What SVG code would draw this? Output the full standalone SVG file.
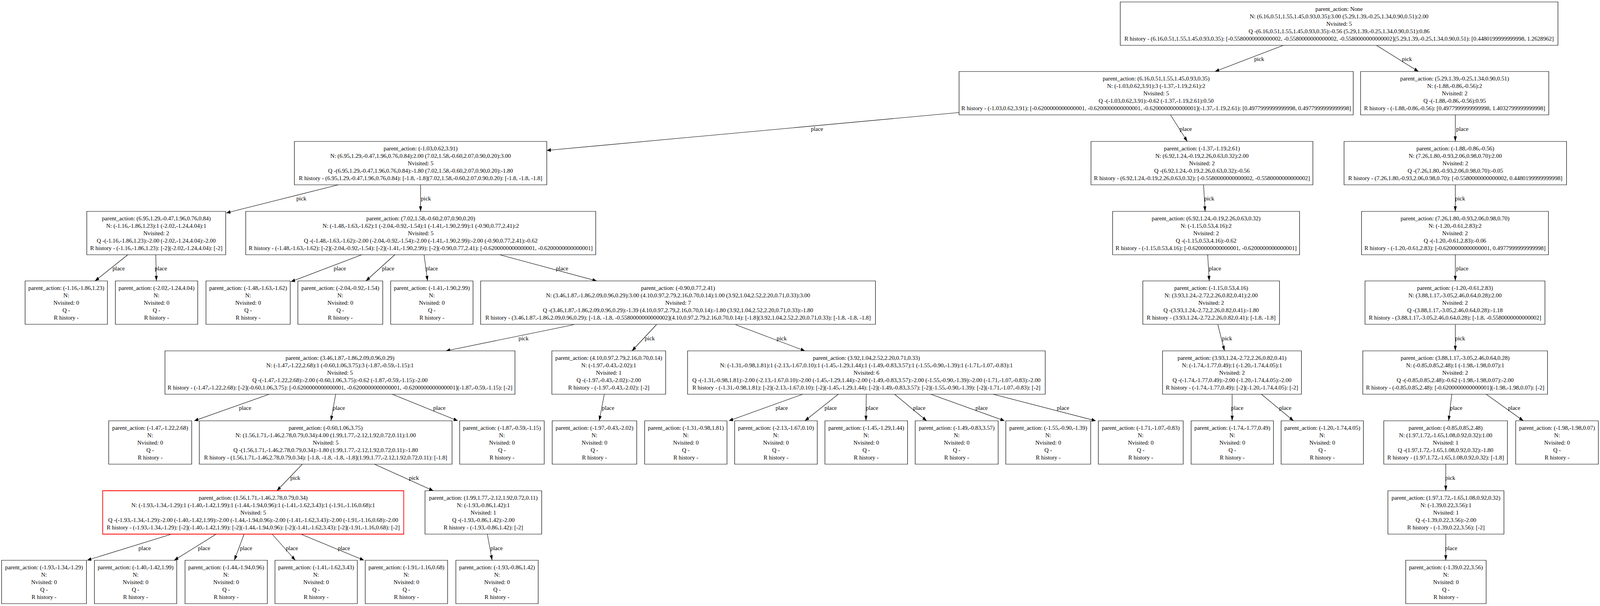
<svg xmlns="http://www.w3.org/2000/svg" width="5033" height="1551" viewBox="0 0 5033 1551">
<defs>
<style>
.node rect{fill:#fff;stroke:#000;stroke-width:1.2;vector-effect:non-scaling-stroke}
.node.sel rect{stroke:#ff0000;stroke-width:1.8}
text{font-family:"Liberation Serif","Times New Roman",serif;font-size:14.9px;text-anchor:middle;fill:#000}
#edges path{stroke:#000;stroke-width:1.1;fill:none;vector-effect:non-scaling-stroke;marker-end:url(#arr)}
</style>
<marker id="arr" markerUnits="userSpaceOnUse" markerWidth="14" markerHeight="10" refX="13" refY="4.7" orient="auto"><path d="M0,0 L13,4.7 L0,9.4 z" fill="#000"/></marker>
</defs>
<rect x="0" y="0" width="5033" height="1551" fill="#fff"/>
<g id="edges">
<g transform="scale(0.8138,1)">
<path d="M4037,116 L3822,183"/>
<path d="M4330,116 L4462,183"/>
<path d="M3017,288 L1720,385"/>
<path d="M3682,294 L3735,362"/>
<path d="M4578,294 L4578,362"/>
<path d="M1064,473 L712,545"/>
<path d="M1323,473 L1323,541"/>
<path d="M3786,473 L3791,541"/>
<path d="M4578,473 L4578,541"/>
<path d="M402,652 L299,719"/>
<path d="M490,652 L492,719"/>
<path d="M1138,652 L915,721"/>
<path d="M1242,652 L1151,719"/>
<path d="M1334,652 L1345,719"/>
<path d="M1572,652 L1877,719"/>
<path d="M3799,652 L3804,719"/>
<path d="M4578,652 L4578,719"/>
<path d="M1805,831 L1403,898"/>
<path d="M2065,831 L1988,898"/>
<path d="M2314,831 L2532,898"/>
<path d="M3831,831 L3852,898"/>
<path d="M4578,831 L4578,898"/>
<path d="M847,1009 L611,1077"/>
<path d="M1056,1009 L1041,1077"/>
<path d="M1234,1009 L1440,1077"/>
<path d="M1901,1009 L1885,1077"/>
<path d="M2525,1009 L2293,1077"/>
<path d="M2637,1009 L2532,1077"/>
<path d="M2725,1009 L2724,1077"/>
<path d="M2814,1009 L2915,1077"/>
<path d="M2928,1009 L3160,1077"/>
<path d="M3124,1009 L3447,1077"/>
<path d="M3876,1009 L3876,1077"/>
<path d="M3968,1009 L4069,1077"/>
<path d="M4567,1009 L4557,1077"/>
<path d="M4675,1009 L4792,1077"/>
<path d="M951,1188 L871,1256"/>
<path d="M1178,1188 L1363,1256"/>
<path d="M4548,1188 L4548,1256"/>
<path d="M540,1367 L274,1434"/>
<path d="M680,1367 L548,1434"/>
<path d="M768,1367 L737,1434"/>
<path d="M856,1367 L929,1434"/>
<path d="M946,1367 L1145,1434"/>
<path d="M1533,1367 L1548,1434"/>
<path d="M4548,1367 L4548,1434"/>
</g>
<text x="3223.5" y="156">pick</text>
<text x="3601.9" y="156">pick</text>
<text x="2091.5" y="335">place</text>
<text x="3035.5" y="335">place</text>
<text x="3743.5" y="335">place</text>
<text x="771.5" y="513">pick</text>
<text x="1090.5" y="513">pick</text>
<text x="3095.7" y="513">pick</text>
<text x="3737.8" y="513">pick</text>
<text x="303.6" y="692">place</text>
<text x="411.8" y="692">place</text>
<text x="870" y="692">place</text>
<text x="993.6" y="692">place</text>
<text x="1105.1" y="692">place</text>
<text x="1438.8" y="692">place</text>
<text x="3110.3" y="692">place</text>
<text x="3743.5" y="692">place</text>
<text x="1340.3" y="871">pick</text>
<text x="1663.4" y="871">pick</text>
<text x="2001.1" y="871">pick</text>
<text x="3141.3" y="871">pick</text>
<text x="3737.8" y="871">pick</text>
<text x="627.4" y="1049">place</text>
<text x="867.5" y="1049">place</text>
<text x="1124.7" y="1049">place</text>
<text x="1556.8" y="1049">place</text>
<text x="2001.1" y="1049">place</text>
<text x="2126.5" y="1049">place</text>
<text x="2232.3" y="1049">place</text>
<text x="2353.5" y="1049">place</text>
<text x="2513" y="1049">place</text>
<text x="2721.3" y="1049">place</text>
<text x="3167.3" y="1049">place</text>
<text x="3290.2" y="1049">place</text>
<text x="3728" y="1049">place</text>
<text x="3876.1" y="1049">place</text>
<text x="756" y="1228">pick</text>
<text x="1059.6" y="1228">pick</text>
<text x="3712.6" y="1228">pick</text>
<text x="370.3" y="1408">place</text>
<text x="522.5" y="1408">place</text>
<text x="629.9" y="1408">place</text>
<text x="747.1" y="1408">place</text>
<text x="880.5" y="1408">place</text>
<text x="1271.2" y="1408">place</text>
<text x="3715" y="1408">place</text>
</g>
<g id="root" class="node"><rect transform="scale(0.8138,1)" x="3524" y="5" width="1377" height="111"/><text x="3428.1" y="27.5"><tspan x="3428.1">parent_action: None</tspan><tspan x="3428.1" dy="19.2">N: (6.16,0.51,1.55,1.45,0.93,0.35):3.00 (5.29,1.39,-0.25,1.34,0.90,0.51):2.00</tspan><tspan x="3428.1" dy="19.2">Nvisited: 5</tspan><tspan x="3428.1" dy="19.2">Q -(6.16,0.51,1.55,1.45,0.93,0.35):-0.56 (5.29,1.39,-0.25,1.34,0.90,0.51):0.86</tspan><tspan x="3428.1" dy="19.2">R history - (6.16,0.51,1.55,1.45,0.93,0.35): [-0.5580000000000002, -0.5580000000000002, -0.5580000000000002](5.29,1.39,-0.25,1.34,0.90,0.51): [0.4480199999999998, 1.2628962]</tspan></text></g>
<g id="n_L1a" class="node"><rect transform="scale(0.8138,1)" x="3017" y="183" width="1240" height="111"/><text x="2959.8" y="205.5"><tspan x="2959.8">parent_action: (6.16,0.51,1.55,1.45,0.93,0.35)</tspan><tspan x="2959.8" dy="19.2">N: (-1.03,0.62,3.91):3 (-1.37,-1.19,2.61):2</tspan><tspan x="2959.8" dy="19.2">Nvisited: 5</tspan><tspan x="2959.8" dy="19.2">Q -(-1.03,0.62,3.91):-0.62 (-1.37,-1.19,2.61):0.50</tspan><tspan x="2959.8" dy="19.2">R history - (-1.03,0.62,3.91): [-0.6200000000000001, -0.6200000000000001, -0.6200000000000001](-1.37,-1.19,2.61): [0.4977999999999998, 0.4977999999999998]</tspan></text></g>
<g id="n_L1b" class="node"><rect transform="scale(0.8138,1)" x="4280" y="183" width="592" height="111"/><text x="3723.9" y="205.5"><tspan x="3723.9">parent_action: (5.29,1.39,-0.25,1.34,0.90,0.51)</tspan><tspan x="3723.9" dy="19.2">N: (-1.88,-0.86,-0.56):2</tspan><tspan x="3723.9" dy="19.2">Nvisited: 2</tspan><tspan x="3723.9" dy="19.2">Q -(-1.88,-0.86,-0.56):0.95</tspan><tspan x="3723.9" dy="19.2">R history - (-1.88,-0.86,-0.56): [0.4977999999999998, 1.4032799999999998]</tspan></text></g>
<g id="n_A" class="node"><rect transform="scale(0.8138,1)" x="926" y="362" width="794" height="111"/><text x="1076.7" y="384.5"><tspan x="1076.7">parent_action: (-1.03,0.62,3.91)</tspan><tspan x="1076.7" dy="19.2">N: (6.95,1.29,-0.47,1.96,0.76,0.84):2.00 (7.02,1.58,-0.60,2.07,0.90,0.20):3.00</tspan><tspan x="1076.7" dy="19.2">Nvisited: 5</tspan><tspan x="1076.7" dy="19.2">Q -(6.95,1.29,-0.47,1.96,0.76,0.84):-1.80 (7.02,1.58,-0.60,2.07,0.90,0.20):-1.80</tspan><tspan x="1076.7" dy="19.2">R history - (6.95,1.29,-0.47,1.96,0.76,0.84): [-1.8, -1.8](7.02,1.58,-0.60,2.07,0.90,0.20): [-1.8, -1.8, -1.8]</tspan></text></g>
<g id="n_B" class="node"><rect transform="scale(0.8138,1)" x="3432" y="362" width="698" height="111"/><text x="3077" y="384.5"><tspan x="3077">parent_action: (-1.37,-1.19,2.61)</tspan><tspan x="3077" dy="19.2">N: (6.92,1.24,-0.19,2.26,0.63,0.32):2.00</tspan><tspan x="3077" dy="19.2">Nvisited: 2</tspan><tspan x="3077" dy="19.2">Q -(6.92,1.24,-0.19,2.26,0.63,0.32):-0.56</tspan><tspan x="3077" dy="19.2">R history - (6.92,1.24,-0.19,2.26,0.63,0.32): [-0.5580000000000002, -0.5580000000000002]</tspan></text></g>
<g id="n_C" class="node"><rect transform="scale(0.8138,1)" x="4228" y="362" width="700" height="111"/><text x="3725.6" y="384.5"><tspan x="3725.6">parent_action: (-1.88,-0.86,-0.56)</tspan><tspan x="3725.6" dy="19.2">N: (7.26,1.80,-0.93,2.06,0.98,0.70):2.00</tspan><tspan x="3725.6" dy="19.2">Nvisited: 2</tspan><tspan x="3725.6" dy="19.2">Q -(7.26,1.80,-0.93,2.06,0.98,0.70):-0.05</tspan><tspan x="3725.6" dy="19.2">R history - (7.26,1.80,-0.93,2.06,0.98,0.70): [-0.5580000000000002, 0.4480199999999998]</tspan></text></g>
<g id="n_D" class="node"><rect transform="scale(0.8138,1)" x="273" y="541" width="437" height="111"/><text x="400" y="563.5"><tspan x="400">parent_action: (6.95,1.29,-0.47,1.96,0.76,0.84)</tspan><tspan x="400" dy="19.2">N: (-1.16,-1.86,1.23):1 (-2.02,-1.24,4.04):1</tspan><tspan x="400" dy="19.2">Nvisited: 2</tspan><tspan x="400" dy="19.2">Q -(-1.16,-1.86,1.23):-2.00 (-2.02,-1.24,4.04):-2.00</tspan><tspan x="400" dy="19.2">R history - (-1.16,-1.86,1.23): [-2](-2.02,-1.24,4.04): [-2]</tspan></text></g>
<g id="n_E" class="node"><rect transform="scale(0.8138,1)" x="773" y="541" width="1101" height="111"/><text x="1077.1" y="563.5"><tspan x="1077.1">parent_action: (7.02,1.58,-0.60,2.07,0.90,0.20)</tspan><tspan x="1077.1" dy="19.2">N: (-1.48,-1.63,-1.62):1 (-2.04,-0.92,-1.54):1 (-1.41,-1.90,2.99):1 (-0.90,0.77,2.41):2</tspan><tspan x="1077.1" dy="19.2">Nvisited: 5</tspan><tspan x="1077.1" dy="19.2">Q -(-1.48,-1.63,-1.62):-2.00 (-2.04,-0.92,-1.54):-2.00 (-1.41,-1.90,2.99):-2.00 (-0.90,0.77,2.41):-0.62</tspan><tspan x="1077.1" dy="19.2">R history - (-1.48,-1.63,-1.62): [-2](-2.04,-0.92,-1.54): [-2](-1.41,-1.90,2.99): [-2](-0.90,0.77,2.41): [-0.6200000000000001, -0.6200000000000001]</tspan></text></g>
<g id="n_F" class="node"><rect transform="scale(0.8138,1)" x="3500" y="541" width="588" height="111"/><text x="3087.6" y="563.5"><tspan x="3087.6">parent_action: (6.92,1.24,-0.19,2.26,0.63,0.32)</tspan><tspan x="3087.6" dy="19.2">N: (-1.15,0.53,4.16):2</tspan><tspan x="3087.6" dy="19.2">Nvisited: 2</tspan><tspan x="3087.6" dy="19.2">Q -(-1.15,0.53,4.16):-0.62</tspan><tspan x="3087.6" dy="19.2">R history - (-1.15,0.53,4.16): [-0.6200000000000001, -0.6200000000000001]</tspan></text></g>
<g id="n_G" class="node"><rect transform="scale(0.8138,1)" x="4283" y="541" width="588" height="111"/><text x="3724.8" y="563.5"><tspan x="3724.8">parent_action: (7.26,1.80,-0.93,2.06,0.98,0.70)</tspan><tspan x="3724.8" dy="19.2">N: (-1.20,-0.61,2.83):2</tspan><tspan x="3724.8" dy="19.2">Nvisited: 2</tspan><tspan x="3724.8" dy="19.2">Q -(-1.20,-0.61,2.83):-0.06</tspan><tspan x="3724.8" dy="19.2">R history - (-1.20,-0.61,2.83): [-0.6200000000000001, 0.4977999999999998]</tspan></text></g>
<g id="leaf_D1" class="node"><rect transform="scale(0.8138,1)" x="79" y="719" width="259" height="111"/><text x="169.7" y="741.5"><tspan x="169.7">parent_action: (-1.16,-1.86,1.23)</tspan><tspan x="169.7" dy="19.2">N:</tspan><tspan x="169.7" dy="19.2">Nvisited: 0</tspan><tspan x="169.7" dy="19.2">Q -</tspan><tspan x="169.7" dy="19.2">R history -</tspan></text></g>
<g id="leaf_D2" class="node"><rect transform="scale(0.8138,1)" x="363" y="719" width="259" height="111"/><text x="400.8" y="741.5"><tspan x="400.8">parent_action: (-2.02,-1.24,4.04)</tspan><tspan x="400.8" dy="19.2">N:</tspan><tspan x="400.8" dy="19.2">Nvisited: 0</tspan><tspan x="400.8" dy="19.2">Q -</tspan><tspan x="400.8" dy="19.2">R history -</tspan></text></g>
<g id="leaf_E1" class="node"><rect transform="scale(0.8138,1)" x="648" y="719" width="265" height="111"/><text x="635.2" y="741.5"><tspan x="635.2">parent_action: (-1.48,-1.63,-1.62)</tspan><tspan x="635.2" dy="19.2">N:</tspan><tspan x="635.2" dy="19.2">Nvisited: 0</tspan><tspan x="635.2" dy="19.2">Q -</tspan><tspan x="635.2" dy="19.2">R history -</tspan></text></g>
<g id="leaf_E2" class="node"><rect transform="scale(0.8138,1)" x="937" y="719" width="267" height="111"/><text x="871.2" y="741.5"><tspan x="871.2">parent_action: (-2.04,-0.92,-1.54)</tspan><tspan x="871.2" dy="19.2">N:</tspan><tspan x="871.2" dy="19.2">Nvisited: 0</tspan><tspan x="871.2" dy="19.2">Q -</tspan><tspan x="871.2" dy="19.2">R history -</tspan></text></g>
<g id="leaf_E3" class="node"><rect transform="scale(0.8138,1)" x="1229" y="719" width="259" height="111"/><text x="1105.5" y="741.5"><tspan x="1105.5">parent_action: (-1.41,-1.90,2.99)</tspan><tspan x="1105.5" dy="19.2">N:</tspan><tspan x="1105.5" dy="19.2">Nvisited: 0</tspan><tspan x="1105.5" dy="19.2">Q -</tspan><tspan x="1105.5" dy="19.2">R history -</tspan></text></g>
<g id="n_H" class="node"><rect transform="scale(0.8138,1)" x="1512" y="719" width="1242" height="111"/><text x="1735.8" y="741.5"><tspan x="1735.8">parent_action: (-0.90,0.77,2.41)</tspan><tspan x="1735.8" dy="19.2">N: (3.46,1.87,-1.86,2.09,0.96,0.29):3.00 (4.10,0.97,2.79,2.16,0.70,0.14):1.00 (3.92,1.04,2.52,2.20,0.71,0.33):3.00</tspan><tspan x="1735.8" dy="19.2">Nvisited: 7</tspan><tspan x="1735.8" dy="19.2">Q -(3.46,1.87,-1.86,2.09,0.96,0.29):-1.39 (4.10,0.97,2.79,2.16,0.70,0.14):-1.80 (3.92,1.04,2.52,2.20,0.71,0.33):-1.80</tspan><tspan x="1735.8" dy="19.2">R history - (3.46,1.87,-1.86,2.09,0.96,0.29): [-1.8, -1.8, -0.5580000000000002](4.10,0.97,2.79,2.16,0.70,0.14): [-1.8](3.92,1.04,2.52,2.20,0.71,0.33): [-1.8, -1.8, -1.8]</tspan></text></g>
<g id="n_I" class="node"><rect transform="scale(0.8138,1)" x="3595" y="719" width="430" height="111"/><text x="3100.6" y="741.5"><tspan x="3100.6">parent_action: (-1.15,0.53,4.16)</tspan><tspan x="3100.6" dy="19.2">N: (3.93,1.24,-2.72,2.26,0.82,0.41):2.00</tspan><tspan x="3100.6" dy="19.2">Nvisited: 2</tspan><tspan x="3100.6" dy="19.2">Q -(3.93,1.24,-2.72,2.26,0.82,0.41):-1.80</tspan><tspan x="3100.6" dy="19.2">R history - (3.93,1.24,-2.72,2.26,0.82,0.41): [-1.8, -1.8]</tspan></text></g>
<g id="n_J" class="node"><rect transform="scale(0.8138,1)" x="4294" y="719" width="566" height="111"/><text x="3724.8" y="741.5"><tspan x="3724.8">parent_action: (-1.20,-0.61,2.83)</tspan><tspan x="3724.8" dy="19.2">N: (3.88,1.17,-3.05,2.46,0.64,0.28):2.00</tspan><tspan x="3724.8" dy="19.2">Nvisited: 2</tspan><tspan x="3724.8" dy="19.2">Q -(3.88,1.17,-3.05,2.46,0.64,0.28):-1.18</tspan><tspan x="3724.8" dy="19.2">R history - (3.88,1.17,-3.05,2.46,0.64,0.28): [-1.8, -0.5580000000000002]</tspan></text></g>
<g id="n_K" class="node"><rect transform="scale(0.8138,1)" x="519" y="898" width="1101" height="111"/><text x="870.4" y="920.5"><tspan x="870.4">parent_action: (3.46,1.87,-1.86,2.09,0.96,0.29)</tspan><tspan x="870.4" dy="19.2">N: (-1.47,-1.22,2.68):1 (-0.60,1.06,3.75):3 (-1.87,-0.59,-1.15):1</tspan><tspan x="870.4" dy="19.2">Nvisited: 5</tspan><tspan x="870.4" dy="19.2">Q -(-1.47,-1.22,2.68):-2.00 (-0.60,1.06,3.75):-0.62 (-1.87,-0.59,-1.15):-2.00</tspan><tspan x="870.4" dy="19.2">R history - (-1.47,-1.22,2.68): [-2](-0.60,1.06,3.75): [-0.6200000000000001, -0.6200000000000001, -0.6200000000000001](-1.87,-0.59,-1.15): [-2]</tspan></text></g>
<g id="n_L" class="node"><rect transform="scale(0.8138,1)" x="1736" y="898" width="358" height="111"/><text x="1558.4" y="920.5"><tspan x="1558.4">parent_action: (4.10,0.97,2.79,2.16,0.70,0.14)</tspan><tspan x="1558.4" dy="19.2">N: (-1.97,-0.43,-2.02):1</tspan><tspan x="1558.4" dy="19.2">Nvisited: 1</tspan><tspan x="1558.4" dy="19.2">Q -(-1.97,-0.43,-2.02):-2.00</tspan><tspan x="1558.4" dy="19.2">R history - (-1.97,-0.43,-2.02): [-2]</tspan></text></g>
<g id="n_M" class="node"><rect transform="scale(0.8138,1)" x="2163" y="898" width="1125" height="111"/><text x="2218" y="920.5"><tspan x="2218">parent_action: (3.92,1.04,2.52,2.20,0.71,0.33)</tspan><tspan x="2218" dy="19.2">N: (-1.31,-0.98,1.81):1 (-2.13,-1.67,0.10):1 (-1.45,-1.29,1.44):1 (-1.49,-0.83,3.57):1 (-1.55,-0.90,-1.39):1 (-1.71,-1.07,-0.83):1</tspan><tspan x="2218" dy="19.2">Nvisited: 6</tspan><tspan x="2218" dy="19.2">Q -(-1.31,-0.98,1.81):-2.00 (-2.13,-1.67,0.10):-2.00 (-1.45,-1.29,1.44):-2.00 (-1.49,-0.83,3.57):-2.00 (-1.55,-0.90,-1.39):-2.00 (-1.71,-1.07,-0.83):-2.00</tspan><tspan x="2218" dy="19.2">R history - (-1.31,-0.98,1.81): [-2](-2.13,-1.67,0.10): [-2](-1.45,-1.29,1.44): [-2](-1.49,-0.83,3.57): [-2](-1.55,-0.90,-1.39): [-2](-1.71,-1.07,-0.83): [-2]</tspan></text></g>
<g id="n_I2" class="node"><rect transform="scale(0.8138,1)" x="3657" y="898" width="437" height="111"/><text x="3153.9" y="920.5"><tspan x="3153.9">parent_action: (3.93,1.24,-2.72,2.26,0.82,0.41)</tspan><tspan x="3153.9" dy="19.2">N: (-1.74,-1.77,0.49):1 (-1.20,-1.74,4.05):1</tspan><tspan x="3153.9" dy="19.2">Nvisited: 2</tspan><tspan x="3153.9" dy="19.2">Q -(-1.74,-1.77,0.49):-2.00 (-1.20,-1.74,4.05):-2.00</tspan><tspan x="3153.9" dy="19.2">R history - (-1.74,-1.77,0.49): [-2](-1.20,-1.74,4.05): [-2]</tspan></text></g>
<g id="n_J2" class="node"><rect transform="scale(0.8138,1)" x="4287" y="898" width="581" height="111"/><text x="3725.2" y="920.5"><tspan x="3725.2">parent_action: (3.88,1.17,-3.05,2.46,0.64,0.28)</tspan><tspan x="3725.2" dy="19.2">N: (-0.85,0.85,2.48):1 (-1.98,-1.98,0.07):1</tspan><tspan x="3725.2" dy="19.2">Nvisited: 2</tspan><tspan x="3725.2" dy="19.2">Q -(-0.85,0.85,2.48):-0.62 (-1.98,-1.98,0.07):-2.00</tspan><tspan x="3725.2" dy="19.2">R history - (-0.85,0.85,2.48): [-0.6200000000000001](-1.98,-1.98,0.07): [-2]</tspan></text></g>
<g id="leaf_K1" class="node"><rect transform="scale(0.8138,1)" x="342" y="1077" width="261" height="111"/><text x="384.5" y="1099.5"><tspan x="384.5">parent_action: (-1.47,-1.22,2.68)</tspan><tspan x="384.5" dy="19.2">N:</tspan><tspan x="384.5" dy="19.2">Nvisited: 0</tspan><tspan x="384.5" dy="19.2">Q -</tspan><tspan x="384.5" dy="19.2">R history -</tspan></text></g>
<g id="n_K2" class="node"><rect transform="scale(0.8138,1)" x="627" y="1077" width="795" height="111"/><text x="833.7" y="1099.5"><tspan x="833.7">parent_action: (-0.60,1.06,3.75)</tspan><tspan x="833.7" dy="19.2">N: (1.56,1.71,-1.46,2.78,0.79,0.34):4.00 (1.99,1.77,-2.12,1.92,0.72,0.11):1.00</tspan><tspan x="833.7" dy="19.2">Nvisited: 5</tspan><tspan x="833.7" dy="19.2">Q -(1.56,1.71,-1.46,2.78,0.79,0.34):-1.80 (1.99,1.77,-2.12,1.92,0.72,0.11):-1.80</tspan><tspan x="833.7" dy="19.2">R history - (1.56,1.71,-1.46,2.78,0.79,0.34): [-1.8, -1.8, -1.8, -1.8](1.99,1.77,-2.12,1.92,0.72,0.11): [-1.8]</tspan></text></g>
<g id="leaf_K3" class="node"><rect transform="scale(0.8138,1)" x="1446" y="1077" width="266" height="111"/><text x="1285" y="1099.5"><tspan x="1285">parent_action: (-1.87,-0.59,-1.15)</tspan><tspan x="1285" dy="19.2">N:</tspan><tspan x="1285" dy="19.2">Nvisited: 0</tspan><tspan x="1285" dy="19.2">Q -</tspan><tspan x="1285" dy="19.2">R history -</tspan></text></g>
<g id="leaf_L1" class="node"><rect transform="scale(0.8138,1)" x="1737" y="1077" width="266" height="111"/><text x="1521.8" y="1099.5"><tspan x="1521.8">parent_action: (-1.97,-0.43,-2.02)</tspan><tspan x="1521.8" dy="19.2">N:</tspan><tspan x="1521.8" dy="19.2">Nvisited: 0</tspan><tspan x="1521.8" dy="19.2">Q -</tspan><tspan x="1521.8" dy="19.2">R history -</tspan></text></g>
<g id="leaf_M1" class="node"><rect transform="scale(0.8138,1)" x="2028" y="1077" width="259" height="111"/><text x="1755.8" y="1099.5"><tspan x="1755.8">parent_action: (-1.31,-0.98,1.81)</tspan><tspan x="1755.8" dy="19.2">N:</tspan><tspan x="1755.8" dy="19.2">Nvisited: 0</tspan><tspan x="1755.8" dy="19.2">Q -</tspan><tspan x="1755.8" dy="19.2">R history -</tspan></text></g>
<g id="leaf_M2" class="node"><rect transform="scale(0.8138,1)" x="2311" y="1077" width="260" height="111"/><text x="1986.5" y="1099.5"><tspan x="1986.5">parent_action: (-2.13,-1.67,0.10)</tspan><tspan x="1986.5" dy="19.2">N:</tspan><tspan x="1986.5" dy="19.2">Nvisited: 0</tspan><tspan x="1986.5" dy="19.2">Q -</tspan><tspan x="1986.5" dy="19.2">R history -</tspan></text></g>
<g id="leaf_M3" class="node"><rect transform="scale(0.8138,1)" x="2595" y="1077" width="260" height="111"/><text x="2217.6" y="1099.5"><tspan x="2217.6">parent_action: (-1.45,-1.29,1.44)</tspan><tspan x="2217.6" dy="19.2">N:</tspan><tspan x="2217.6" dy="19.2">Nvisited: 0</tspan><tspan x="2217.6" dy="19.2">Q -</tspan><tspan x="2217.6" dy="19.2">R history -</tspan></text></g>
<g id="leaf_M4" class="node"><rect transform="scale(0.8138,1)" x="2879" y="1077" width="261" height="111"/><text x="2449.1" y="1099.5"><tspan x="2449.1">parent_action: (-1.49,-0.83,3.57)</tspan><tspan x="2449.1" dy="19.2">N:</tspan><tspan x="2449.1" dy="19.2">Nvisited: 0</tspan><tspan x="2449.1" dy="19.2">Q -</tspan><tspan x="2449.1" dy="19.2">R history -</tspan></text></g>
<g id="leaf_M5" class="node"><rect transform="scale(0.8138,1)" x="3164" y="1077" width="267" height="111"/><text x="2683.5" y="1099.5"><tspan x="2683.5">parent_action: (-1.55,-0.90,-1.39)</tspan><tspan x="2683.5" dy="19.2">N:</tspan><tspan x="2683.5" dy="19.2">Nvisited: 0</tspan><tspan x="2683.5" dy="19.2">Q -</tspan><tspan x="2683.5" dy="19.2">R history -</tspan></text></g>
<g id="leaf_M6" class="node"><rect transform="scale(0.8138,1)" x="3455" y="1077" width="267" height="111"/><text x="2920.3" y="1099.5"><tspan x="2920.3">parent_action: (-1.71,-1.07,-0.83)</tspan><tspan x="2920.3" dy="19.2">N:</tspan><tspan x="2920.3" dy="19.2">Nvisited: 0</tspan><tspan x="2920.3" dy="19.2">Q -</tspan><tspan x="2920.3" dy="19.2">R history -</tspan></text></g>
<g id="leaf_I1" class="node"><rect transform="scale(0.8138,1)" x="3747" y="1077" width="259" height="111"/><text x="3154.7" y="1099.5"><tspan x="3154.7">parent_action: (-1.74,-1.77,0.49)</tspan><tspan x="3154.7" dy="19.2">N:</tspan><tspan x="3154.7" dy="19.2">Nvisited: 0</tspan><tspan x="3154.7" dy="19.2">Q -</tspan><tspan x="3154.7" dy="19.2">R history -</tspan></text></g>
<g id="leaf_I2" class="node"><rect transform="scale(0.8138,1)" x="4030" y="1077" width="259" height="111"/><text x="3385" y="1099.5"><tspan x="3385">parent_action: (-1.20,-1.74,4.05)</tspan><tspan x="3385" dy="19.2">N:</tspan><tspan x="3385" dy="19.2">Nvisited: 0</tspan><tspan x="3385" dy="19.2">Q -</tspan><tspan x="3385" dy="19.2">R history -</tspan></text></g>
<g id="n_J3" class="node"><rect transform="scale(0.8138,1)" x="4353" y="1077" width="389" height="111"/><text x="3700.8" y="1099.5"><tspan x="3700.8">parent_action: (-0.85,0.85,2.48)</tspan><tspan x="3700.8" dy="19.2">N: (1.97,1.72,-1.65,1.08,0.92,0.32):1.00</tspan><tspan x="3700.8" dy="19.2">Nvisited: 1</tspan><tspan x="3700.8" dy="19.2">Q -(1.97,1.72,-1.65,1.08,0.92,0.32):-1.80</tspan><tspan x="3700.8" dy="19.2">R history - (1.97,1.72,-1.65,1.08,0.92,0.32): [-1.8]</tspan></text></g>
<g id="leaf_J2" class="node"><rect transform="scale(0.8138,1)" x="4768" y="1077" width="260" height="111"/><text x="3986" y="1099.5"><tspan x="3986">parent_action: (-1.98,-1.98,0.07)</tspan><tspan x="3986" dy="19.2">N:</tspan><tspan x="3986" dy="19.2">Nvisited: 0</tspan><tspan x="3986" dy="19.2">Q -</tspan><tspan x="3986" dy="19.2">R history -</tspan></text></g>
<g id="n_K3" class="node sel"><rect transform="scale(0.8138,1)" x="323" y="1256" width="947" height="111"/><text x="648.2" y="1278.5"><tspan x="648.2">parent_action: (1.56,1.71,-1.46,2.78,0.79,0.34)</tspan><tspan x="648.2" dy="19.2">N: (-1.93,-1.34,-1.29):1 (-1.40,-1.42,1.99):1 (-1.44,-1.94,0.96):1 (-1.41,-1.62,3.43):1 (-1.91,-1.16,0.68):1</tspan><tspan x="648.2" dy="19.2">Nvisited: 5</tspan><tspan x="648.2" dy="19.2">Q -(-1.93,-1.34,-1.29):-2.00 (-1.40,-1.42,1.99):-2.00 (-1.44,-1.94,0.96):-2.00 (-1.41,-1.62,3.43):-2.00 (-1.91,-1.16,0.68):-2.00</tspan><tspan x="648.2" dy="19.2">R history - (-1.93,-1.34,-1.29): [-2](-1.40,-1.42,1.99): [-2](-1.44,-1.94,0.96): [-2](-1.41,-1.62,3.43): [-2](-1.91,-1.16,0.68): [-2]</tspan></text></g>
<g id="n_K4" class="node"><rect transform="scale(0.8138,1)" x="1337" y="1256" width="367" height="111"/><text x="1237.4" y="1278.5"><tspan x="1237.4">parent_action: (1.99,1.77,-2.12,1.92,0.72,0.11)</tspan><tspan x="1237.4" dy="19.2">N: (-1.93,-0.86,1.42):1</tspan><tspan x="1237.4" dy="19.2">Nvisited: 1</tspan><tspan x="1237.4" dy="19.2">Q -(-1.93,-0.86,1.42):-2.00</tspan><tspan x="1237.4" dy="19.2">R history - (-1.93,-0.86,1.42): [-2]</tspan></text></g>
<g id="n_J4" class="node"><rect transform="scale(0.8138,1)" x="4366" y="1256" width="365" height="111"/><text x="3701.6" y="1278.5"><tspan x="3701.6">parent_action: (1.97,1.72,-1.65,1.08,0.92,0.32)</tspan><tspan x="3701.6" dy="19.2">N: (-1.39,0.22,3.56):1</tspan><tspan x="3701.6" dy="19.2">Nvisited: 1</tspan><tspan x="3701.6" dy="19.2">Q -(-1.39,0.22,3.56):-2.00</tspan><tspan x="3701.6" dy="19.2">R history - (-1.39,0.22,3.56): [-2]</tspan></text></g>
<g id="leaf_P1" class="node"><rect transform="scale(0.8138,1)" x="5" y="1434" width="267" height="111"/><text x="112.7" y="1456.5"><tspan x="112.7">parent_action: (-1.93,-1.34,-1.29)</tspan><tspan x="112.7" dy="19.2">N:</tspan><tspan x="112.7" dy="19.2">Nvisited: 0</tspan><tspan x="112.7" dy="19.2">Q -</tspan><tspan x="112.7" dy="19.2">R history -</tspan></text></g>
<g id="leaf_P2" class="node"><rect transform="scale(0.8138,1)" x="297" y="1434" width="259" height="111"/><text x="347.1" y="1456.5"><tspan x="347.1">parent_action: (-1.40,-1.42,1.99)</tspan><tspan x="347.1" dy="19.2">N:</tspan><tspan x="347.1" dy="19.2">Nvisited: 0</tspan><tspan x="347.1" dy="19.2">Q -</tspan><tspan x="347.1" dy="19.2">R history -</tspan></text></g>
<g id="leaf_P3" class="node"><rect transform="scale(0.8138,1)" x="582" y="1434" width="259" height="111"/><text x="579" y="1456.5"><tspan x="579">parent_action: (-1.44,-1.94,0.96)</tspan><tspan x="579" dy="19.2">N:</tspan><tspan x="579" dy="19.2">Nvisited: 0</tspan><tspan x="579" dy="19.2">Q -</tspan><tspan x="579" dy="19.2">R history -</tspan></text></g>
<g id="leaf_P4" class="node"><rect transform="scale(0.8138,1)" x="865" y="1434" width="259" height="111"/><text x="809.3" y="1456.5"><tspan x="809.3">parent_action: (-1.41,-1.62,3.43)</tspan><tspan x="809.3" dy="19.2">N:</tspan><tspan x="809.3" dy="19.2">Nvisited: 0</tspan><tspan x="809.3" dy="19.2">Q -</tspan><tspan x="809.3" dy="19.2">R history -</tspan></text></g>
<g id="leaf_P5" class="node"><rect transform="scale(0.8138,1)" x="1149" y="1434" width="259" height="111"/><text x="1040.4" y="1456.5"><tspan x="1040.4">parent_action: (-1.91,-1.16,0.68)</tspan><tspan x="1040.4" dy="19.2">N:</tspan><tspan x="1040.4" dy="19.2">Nvisited: 0</tspan><tspan x="1040.4" dy="19.2">Q -</tspan><tspan x="1040.4" dy="19.2">R history -</tspan></text></g>
<g id="leaf_P6" class="node"><rect transform="scale(0.8138,1)" x="1434" y="1434" width="259" height="111"/><text x="1272.4" y="1456.5"><tspan x="1272.4">parent_action: (-1.93,-0.86,1.42)</tspan><tspan x="1272.4" dy="19.2">N:</tspan><tspan x="1272.4" dy="19.2">Nvisited: 0</tspan><tspan x="1272.4" dy="19.2">Q -</tspan><tspan x="1272.4" dy="19.2">R history -</tspan></text></g>
<g id="leaf_J4" class="node"><rect transform="scale(0.8138,1)" x="4422" y="1434" width="253" height="111"/><text x="3701.6" y="1456.5"><tspan x="3701.6">parent_action: (-1.39,0.22,3.56)</tspan><tspan x="3701.6" dy="19.2">N:</tspan><tspan x="3701.6" dy="19.2">Nvisited: 0</tspan><tspan x="3701.6" dy="19.2">Q -</tspan><tspan x="3701.6" dy="19.2">R history -</tspan></text></g>
</svg>
